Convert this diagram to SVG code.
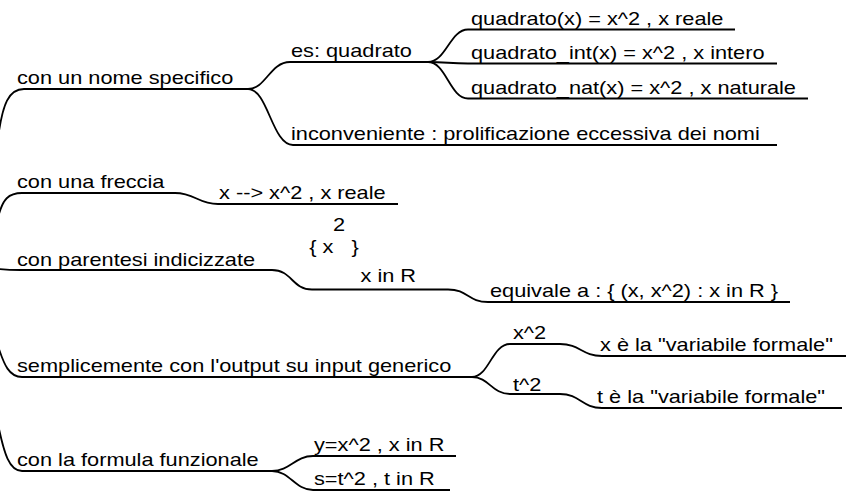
<svg xmlns="http://www.w3.org/2000/svg" width="846" height="494" viewBox="0 0 846 494">
<style>
text{font-family:"Liberation Sans",Arial,sans-serif;font-size:19px;fill:#000}
.c{fill:none;stroke:#000;stroke-width:1.8}
</style>
<rect width="846" height="494" fill="#fff"/>
<g id="connectors">
<path class="c" d="M-1,131 C3,106 8,89 24,89 H248"/>
<path class="c" d="M248,89 C266,89 270,62 290,62 H428"/>
<path class="c" d="M248,89 C268,89 272,145 293,145 H777"/>
<path class="c" d="M428,62 C446,62 450,29.5 468,29.5 H735"/>
<path class="c" d="M428,62 C446,62 450,63.5 468,63.5 H777"/>
<path class="c" d="M428,62 C446,62 450,98.5 468,98.5 H808"/>
<path class="c" d="M-1,214 C3,200 8,193 22,193 H175 C195,193 198,204 218,204 H398"/>
<path class="c" d="M-1,269 C4,269.5 9,270 20,270 H272 C292,270 292,289.5 312,289.5 H448 C468,289.5 468,302 488,302 H790"/>
<path class="c" d="M-1,349 C4,364 9,377 22,377 H472"/>
<path class="c" d="M472,377 C489,377 492,344 510,344 H560 C580,344 582,356 602,356 H846"/>
<path class="c" d="M472,377 C489,377 492,394 510,394 H560 C580,394 582,408 602,408 H842"/>
<path class="c" d="M-1,429 C4,452 9,471 22,471 H272"/>
<path class="c" d="M272,471 C290,471 295,456 313,456 H456"/>
<path class="c" d="M272,471 C290,471 295,490 313,490 H450"/>
</g>
<g id="n-nome"><text transform="translate(17,83.5) scale(1.145 1)">con un nome specifico</text></g>
<g id="n-es"><text transform="translate(291,56.5) scale(1.145 1)">es: quadrato</text></g>
<g id="n-q1"><text transform="translate(471,24.5) scale(1.145 1)">quadrato(x) = x^2 , x reale</text></g>
<g id="n-q2"><text transform="translate(471,58.5) scale(1.145 1)">quadrato_int(x) = x^2 , x intero</text></g>
<g id="n-q3"><text transform="translate(471,93.5) scale(1.145 1)">quadrato_nat(x) = x^2 , x naturale</text></g>
<g id="n-inc"><text transform="translate(291,139.5) scale(1.145 1)">inconveniente : prolificazione eccessiva dei nomi</text></g>
<g id="n-freccia"><text transform="translate(17,188.3) scale(1.145 1)">con una freccia</text></g>
<g id="n-freccia-x"><text transform="translate(219,199.3) scale(1.145 1)">x --&gt; x^2 , x reale</text></g>
<g id="n-parentesi"><text transform="translate(17,265.5) scale(1.145 1)">con parentesi indicizzate</text></g>
<g id="n-set">
<text transform="translate(333,230.7) scale(1.145 1)">2</text>
<text transform="translate(309.3,252.7) scale(1.145 1)" xml:space="preserve" style="white-space:pre">{ x   }</text>
<text transform="translate(360.5,281.7) scale(1.145 1)">x in R</text>
</g>
<g id="n-equivale"><text transform="translate(490,297) scale(1.145 1)">equivale a : { (x, x^2) : x in R }</text></g>
<g id="n-output"><text transform="translate(17,372) scale(1.145 1)">semplicemente con l'output su input generico</text></g>
<g id="n-x2"><text transform="translate(513,338.5) scale(1.145 1)">x^2</text></g>
<g id="n-xvar"><text transform="translate(600,350.5) scale(1.145 1)">x è la "variabile formale"</text></g>
<g id="n-t2"><text transform="translate(513,390.5) scale(1.145 1)">t^2</text></g>
<g id="n-tvar"><text transform="translate(597,403.3) scale(1.145 1)">t è la "variabile formale"</text></g>
<g id="n-formula"><text transform="translate(17,465.5) scale(1.145 1)">con la formula funzionale</text></g>
<g id="n-y"><text transform="translate(314,450.5) scale(1.145 1)">y=x^2 , x in R</text></g>
<g id="n-s"><text transform="translate(314,485) scale(1.145 1)">s=t^2 , t in R</text></g>
</svg>
